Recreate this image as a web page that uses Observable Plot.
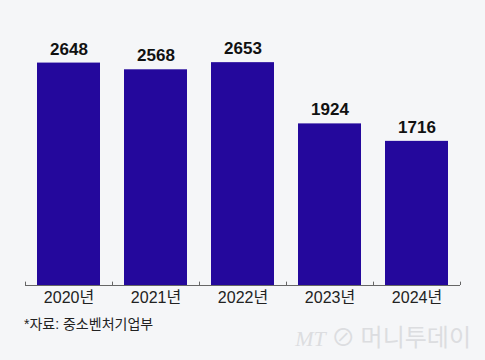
<!DOCTYPE html>
<html>
<head>
<meta charset="utf-8">
<script src="https://cdn.jsdelivr.net/npm/d3@7"></script>
<script src="https://cdn.jsdelivr.net/npm/@observablehq/plot@0.6"></script>
<style>
  html, body { margin: 0; padding: 0; background: #f5f6f8; width: 485px; height: 360px; overflow: hidden; position: relative; }
  #chart svg { display: block; background: #f5f6f8; }
  #caption { position: absolute; left: 24px; top: 313px; font: 14px "Liberation Sans", "Noto Sans CJK KR", sans-serif; color: #222; }
  #wm { position: absolute; right: 14px; top: 322px; font: 24px/1.2 "Noto Sans CJK KR", sans-serif; color: #dcdde0; white-space: nowrap; }
  #wm i { font-family: "Liberation Serif", serif; font-size: 22px; }
</style>
</head>
<body>
<div id="chart"></div>
<div id="caption">*자료: 중소벤처기업부</div>
<div id="wm"><i>MT</i> ⊘ 머니투데이</div>
<script>
const years = ["2020년", "2021년", "2022년", "2023년", "2024년"];
const values = [2648, 2568, 2653, 1924, 1716];
const data = years.map((y, i) => ({year: y, value: values[i]}));

const step = (485 - 25 - 25) / years.length;

const chart = Plot.plot({
  width: 485,
  height: 310,
  marginLeft: 25,
  marginRight: 25,
  marginTop: 0,
  marginBottom: 25,
  style: {background: "#f5f6f8", fontFamily: "'Liberation Sans', 'Noto Sans CJK KR', sans-serif"},
  x: {domain: years, paddingInner: 0.28, paddingOuter: 0.14, label: null},
  y: {domain: [0, 3393], axis: null},
  marks: [
    Plot.barY(data, {x: "year", y: "value", fill: "#24089c"}),
    Plot.ruleY([0], {stroke: "#666", strokeWidth: 1}),
    Plot.ruleX(years, {x: d => d, y1: 0, y2: 40, stroke: "#666", dx: -step / 2}),
    Plot.ruleX([years[years.length - 1]], {x: d => d, y1: 0, y2: 40, stroke: "#666", dx: step / 2}),
    Plot.text(data, {x: "year", y: "value", text: d => String(d.value), dy: -14, fontSize: 17, fontWeight: "bold", fill: "#111", lineAnchor: "middle"}),
    Plot.axisX({tickSize: 0, tickPadding: 6, fontSize: 16, fill: "#222", label: null})
  ]
});
document.getElementById("chart").appendChild(chart);
</script>
</body>
</html>
